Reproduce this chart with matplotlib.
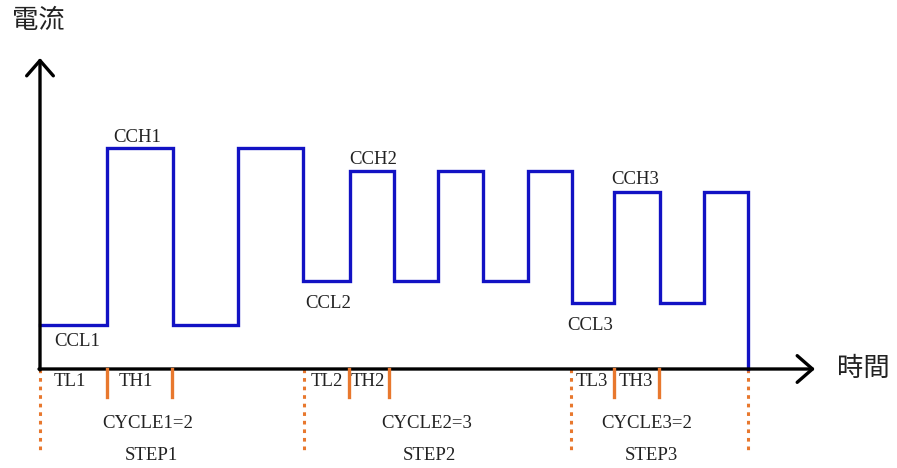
import matplotlib
matplotlib.use("Agg")
import matplotlib.pyplot as plt
from matplotlib.patches import FancyArrowPatch

# waveform: edges of each constant-current segment (time) and its level (current)
t_edges = [0, 67, 133, 198, 263, 310, 354, 398, 443, 488, 532, 574, 620, 664, 708]
i_levels = [44, 221, 44, 221, 88, 198, 88, 198, 88, 198, 66, 177, 66, 177]

# step boundaries (dashed) and TL/TH marks (solid)
step_bounds = [0, 264, 531, 708]
th_marks = [67, 132, 309, 349, 574, 619]

level_labels = ["CCL1", "CCH1", "CCL2", "CCH2", "CCL3", "CCH3"]
level_xy = [(37, 27), (97, 232), (288, 66), (333, 210), (550, 44), (595, 189)]
time_labels = ["TL1", "TH1", "TL2", "TH2", "TL3", "TH3"]
time_x = [30, 96, 287, 328, 552, 596]
cycle_labels = ["CYCLE1=2", "CYCLE2=3", "CYCLE3=2"]
cycle_x = [108, 387, 607]
step_labels = ["STEP1", "STEP2", "STEP3"]
step_x = [111, 389, 611]

blue = "#1212c4"
orange = "#e8782e"
txt = "#222222"
serif = "Liberation Serif"
cjk = ["Noto Sans CJK TC", "DejaVu Sans"]

fig = plt.figure(figsize=(8.97, 4.68), dpi=100)
ax = fig.add_axes([0, 0, 1, 1])
ax.set_xlim(-40, 857)
ax.set_ylim(-99, 369)
ax.axis("off")

# current waveform
xs, ys = [t_edges[0]], [i_levels[0]]
for k, lv in enumerate(i_levels):
    xs += [t_edges[k], t_edges[k + 1]]
    ys += [lv, lv]
xs.append(t_edges[-1])
ys.append(0)
ax.plot(xs, ys, color=blue, lw=2.4, solid_joinstyle="miter", zorder=3)

# axes with open arrow heads
for start, end in [((0, -1), (0, 311)), ((-1, 0), (775, 0))]:
    ax.add_patch(FancyArrowPatch(start, end, arrowstyle="->,head_length=0.55,head_width=0.48",
                                 mutation_scale=20, color="black", lw=2.4,
                                 shrinkA=0, shrinkB=0, zorder=4))

# orange marks
for x in step_bounds:
    ax.plot([x, x], [0, -84], color=orange, lw=2.2, ls=(0, (1.2, 1.6)), zorder=2)
for x in th_marks:
    ax.plot([x, x], [0, -28], color=orange, lw=2.4, zorder=5)

for lab, (x, y) in zip(level_labels, level_xy):
    ax.text(x, y, lab, ha="center", va="center", fontsize=13.5, family=serif, color=txt)
for lab, x in zip(time_labels, time_x):
    ax.text(x, -13, lab, ha="center", va="center", fontsize=13.5, family=serif, color=txt)
for lab, x in zip(cycle_labels, cycle_x):
    ax.text(x, -54, lab, ha="center", va="center", fontsize=13.5, family=serif, color=txt)
for lab, x in zip(step_labels, step_x):
    ax.text(x, -86, lab, ha="center", va="center", fontsize=13.5, family=serif, color=txt)

ax.text(-28, 349, "電流", ha="left", va="center", fontsize=19, family=cjk, color=txt)
ax.text(797, 1, "時間", ha="left", va="center", fontsize=19, family=cjk, color=txt)

fig.savefig("out.png", dpi=100)
